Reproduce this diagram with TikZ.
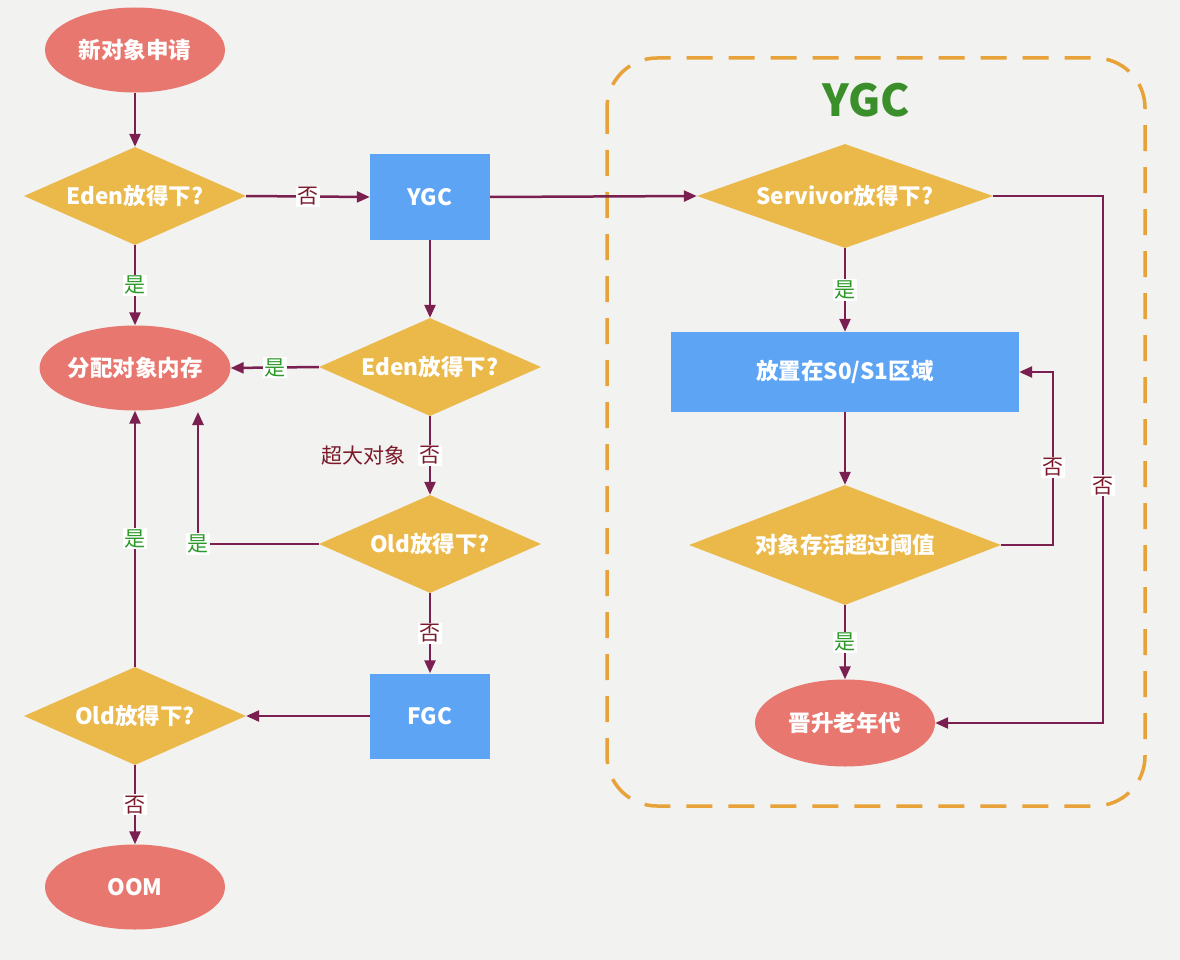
\documentclass[tikz,border=0pt]{standalone}
\usepackage{fontspec}
\setmainfont{Noto Sans CJK SC}
\usetikzlibrary{shapes.geometric,arrows.meta}
\definecolor{bgc}{HTML}{F2F2F0}
\definecolor{ellc}{HTML}{E8786F}
\definecolor{diac}{HTML}{EBB84A}
\definecolor{boxc}{HTML}{5EA4F4}
\definecolor{conc}{HTML}{7B1F51}
\definecolor{noc}{HTML}{7A1A2A}
\definecolor{yesc}{HTML}{2F9A2A}
\definecolor{titc}{HTML}{3A8F2A}
\definecolor{dashc}{HTML}{E8A23A}
\tikzset{
  txt/.style={text=white,font=\fontsize{22.5}{25}\selectfont\bfseries},
  ell/.style={ellipse,fill=ellc,draw=none,minimum width=180pt,minimum height=85pt,inner sep=0pt,txt},
  dia/.style={diamond,fill=diac,draw=none,inner sep=0pt,txt},
  rbox/.style={rectangle,fill=boxc,draw=none,inner sep=0pt,txt},
  conn/.style={draw=conc,line width=2.5pt,-{Triangle[length=13pt,width=11pt]}},
  lab/.style={fill=white,inner sep=1.5pt,font=\fontsize{21}{23}\selectfont},
  nolab/.style={lab,text=noc},
  yeslab/.style={lab,text=yesc}
}
\begin{document}
\begin{tikzpicture}[x=1pt,y=-1pt]
\fill[bgc] (0,0) rectangle (1180,960);
\useasboundingbox (0,0) rectangle (1180,960);
% dashed group
\draw[dashc,line width=3.5pt,dash pattern=on 26pt off 16pt,rounded corners=50pt] (607,58) rectangle (1145,806);
\node[text=titc,font=\fontsize{44}{48}\selectfont\bfseries] (ttl) at (866,100) {YGC};
% nodes
\node[ell] (start) at (135,50) {新对象申请};
\node[dia,minimum width=222pt,minimum height=98pt,aspect=2.27] (eden1) at (135,196) {Eden放得下?};
\node[rbox,minimum width=120pt,minimum height=85pt] (ygc) at (430,197) {YGC};
\node[ell] (alloc) at (135,368) {分配对象内存};
\node[dia,minimum width=222pt,minimum height=98pt,aspect=2.27] (eden2) at (430,367) {Eden放得下?};
\node[dia,minimum width=222pt,minimum height=98pt,aspect=2.27] (old1) at (430,544) {Old放得下?};
\node[rbox,minimum width=120pt,minimum height=85pt] (fgc) at (430,716) {FGC};
\node[dia,minimum width=222pt,minimum height=98pt,aspect=2.27] (old2) at (135,716) {Old放得下?};
\node[ell] (oom) at (135,887) {OOM};
\node[dia,minimum width=296pt,minimum height=104pt,aspect=2.85] (serv) at (845,196) {Servivor放得下?};
\node[rbox,minimum width=348pt,minimum height=80pt] (s0) at (845,372) {放置在S0/S1区域};
\node[dia,minimum width=312pt,minimum height=120pt,aspect=2.6] (thr) at (845,545) {对象存活超过阈值};
\node[ell,minimum width=180pt,minimum height=87pt] (prom) at (845,723) {晋升老年代};
\coordinate (a2) at (198,412);
\coordinate (c1) at (1053,545);
\coordinate (c2) at (1103,196);
% connectors
\draw[conn] (start) -- (eden1);
\draw[conn] (eden1.east) -- node[nolab] (l1) {否} (ygc.west);
\draw[conn] (eden1.south) -- node[yeslab] (l2) {是} (alloc.north);
\draw[conn] (ygc.south) -- (eden2.north);
\draw[conn] (eden2.west) -- node[yeslab] (l3) {是} (alloc.east);
\draw[conn] (eden2.south) -- node[nolab] (l4) {否} (old1.north);
\node[text=noc,font=\fontsize{21}{23}\selectfont,anchor=east] (big) at ([xshift=-8pt]l4.west) {超大对象};
\draw[conn] (old1.west) -| node[yeslab,pos=0.5] (l5) {是} (a2);
\draw[conn] (old1.south) -- node[nolab] (l6) {否} (fgc.north);
\draw[conn] (fgc.west) -- (old2.east);
\draw[conn] (old2.north) -- node[yeslab] (l7) {是} (alloc.south);
\draw[conn] (old2.south) -- node[nolab] (l8) {否} (oom.north);
\draw[conn] (ygc.east) -- (serv.west);
\draw[conn] (serv.south) -- node[yeslab] (l9) {是} (s0.north);
\draw[conn] (s0.south) -- (thr.north);
\draw[conn] (thr.east) -- (c1) -- node[nolab,pos=0.45] (l10) {否} (c1 |- s0.east) -- (s0.east);
\draw[conn] (serv.east) -- (c2) -- node[nolab,pos=0.55] (l11) {否} (c2 |- prom.east) -- (prom.east);
\draw[conn] (thr.south) -- node[yeslab] (l12) {是} (prom.north);
\end{tikzpicture}
\end{document}
